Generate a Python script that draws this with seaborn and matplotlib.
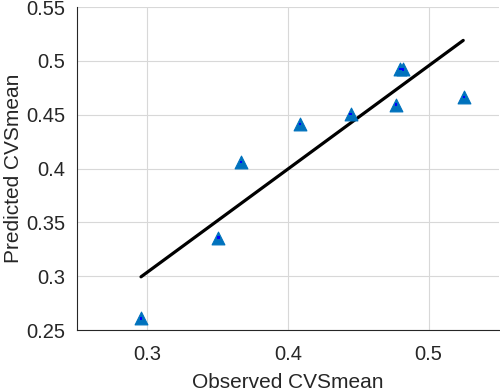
import matplotlib
matplotlib.use("Agg")
import matplotlib.pyplot as plt
import seaborn as sns
import pandas as pd

# Data
observed = [0.2958, 0.3507, 0.3670, 0.4087, 0.4446, 0.4767, 0.4800, 0.4820, 0.5250]
predicted = [0.2608, 0.3358, 0.4060, 0.4414, 0.4506, 0.4593, 0.4926, 0.4920, 0.4667]
fit_x = [0.2958, 0.5246]
fit_y = [0.2994, 0.5190]
x_ticks = [0.3, 0.4, 0.5]
y_ticks = [0.25, 0.3, 0.35, 0.4, 0.45, 0.5, 0.55]

sns.set_style("white")
plt.rcParams['font.family'] = ['Liberation Sans', 'DejaVu Sans']

df = pd.DataFrame({"Observed": observed, "Predicted": predicted})
fit_df = pd.DataFrame({"x": fit_x, "y": fit_y})

fig = plt.figure(figsize=(5.0, 3.91), dpi=100)
ax = fig.add_axes([0.153, 0.156, 0.845, 0.826])

sns.lineplot(data=fit_df, x="x", y="y", color="black", linewidth=2.3, ax=ax, zorder=2)
sns.scatterplot(data=df, x="Observed", y="Predicted", marker="^", s=85,
                color="#0072BD", edgecolor="#0072BD", linewidth=0.8, ax=ax, zorder=3)
sns.scatterplot(data=df, x="Observed", y="Predicted", marker="s", s=3,
                color="#0000FF", edgecolor="none", ax=ax, zorder=4)

ax.set_xlim(0.25, 0.55)
ax.set_ylim(0.25, 0.55)
ax.set_xticks(x_ticks)
ax.set_xticklabels([f"{v:g}" for v in x_ticks])
ax.set_yticks(y_ticks)
ax.set_yticklabels([f"{v:g}" for v in y_ticks])
ax.grid(True, color="#d8d8d8", linewidth=0.8)
ax.set_axisbelow(True)
for s in ["top", "right"]:
    ax.spines[s].set_visible(False)
for s in ["left", "bottom"]:
    ax.spines[s].set_color("#262626")
    ax.spines[s].set_linewidth(0.8)
ax.tick_params(axis="both", direction="in", length=3, width=0.8, color="#262626",
               labelsize=14.5, labelcolor="#262626")
ax.tick_params(axis="x", pad=11)
ax.tick_params(axis="y", pad=8)
ax.set_xlabel("Observed CVSmean", fontsize=15, color="#262626", labelpad=6)
ax.set_ylabel("Predicted CVSmean", fontsize=15, color="#262626", labelpad=2)

fig.savefig("out.png", dpi=100)
